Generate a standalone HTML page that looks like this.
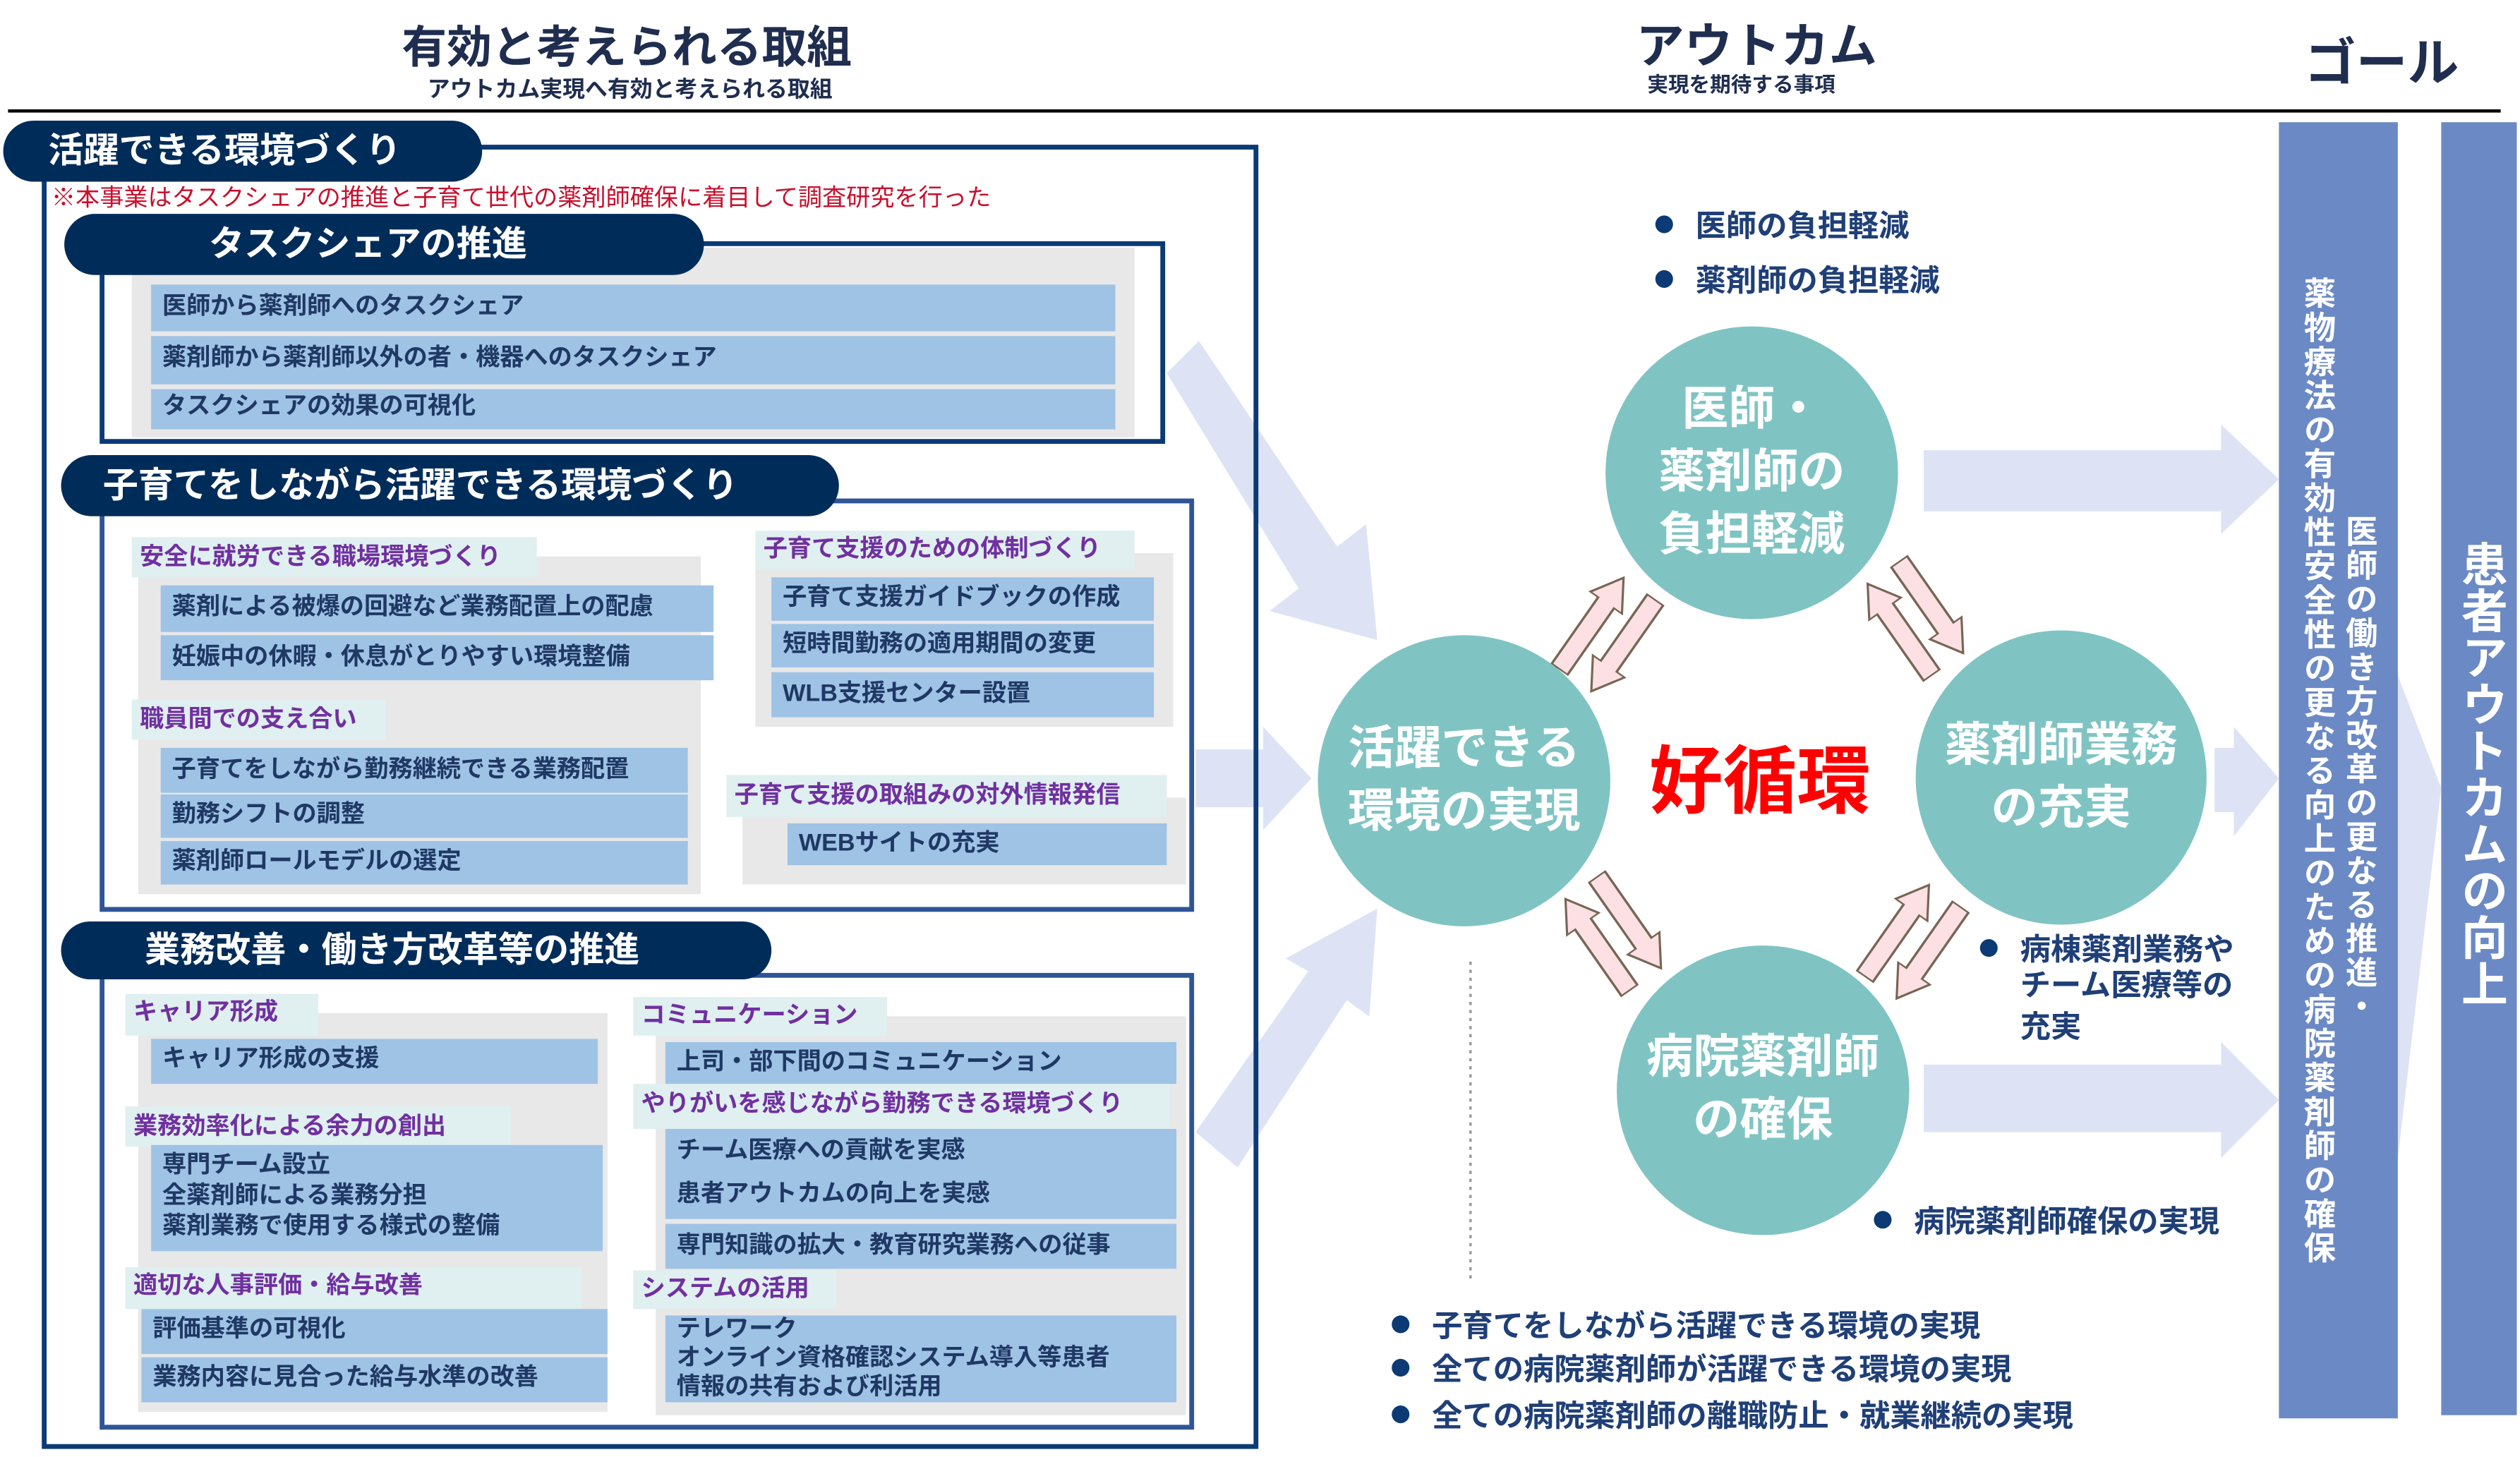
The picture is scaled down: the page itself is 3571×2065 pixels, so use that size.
<!DOCTYPE html>
<html><head><meta charset="utf-8"><style>
*{margin:0;padding:0;box-sizing:border-box}
body{width:3571px;height:2065px;overflow:hidden;background:#fff}
#s{position:absolute;left:0;top:0;width:1568px;height:906px;transform:scale(2.2774,2.2792);transform-origin:0 0;font-family:"Liberation Sans","Noto Sans CJK JP",sans-serif;font-weight:bold}
#s div{position:absolute;white-space:nowrap}
.pill{background:#002c5a;color:#fff;border-radius:20px;font-size:22px;line-height:38px}
.box{border:3px solid #0b3a75}
.box2{border:3px solid #2f5597}
.g{background:#e8e8e8}
.r{background:#9fc3e5;color:#1f3864;font-size:15px;padding-left:7px}
.l{background:#e0eff0;color:#7030a0;font-size:15px;padding-left:5px}
.c{background:#7fc4c3;border-radius:50%;color:#fff;font-size:29px;text-align:center;display:flex;align-items:center;justify-content:center;line-height:39px;white-space:normal!important}
.b{color:#1f3f77;font-size:19px}
.b:before{content:"";display:inline-block;width:11px;height:11px;border-radius:50%;background:#0b3a75;margin-right:14px;vertical-align:2px}
</style></head><body><div id="s">
<div style="left:250px;top:8px;font-size:28px;color:#1f2d4f">有効と考えられる取組</div>
<div style="left:266px;top:45px;font-size:14px;color:#1f2d4f">アウトカム実現へ有効と考えられる取組</div>
<div style="left:1018px;top:4px;font-size:30px;color:#1f2d4f">アウトカム</div>
<div style="left:1025px;top:42px;font-size:13px;color:#1f2d4f">実現を期待する事項</div>
<div style="left:1434px;top:14px;font-size:32px;color:#1f2d4f">ゴール</div>
<div style="left:5px;top:68px;width:1551px;height:2px;background:#000"></div>

<svg style="position:absolute;left:0;top:0" width="1568" height="906">
<polygon points="726,232 746,212 832,340 850,326 857,398 790,380 808,366" fill="#dde3f5"/>
<polygon points="744,466 786,466 786,452 816,484 786,516 786,502 744,502" fill="#dde3f5"/>
<polygon points="744,704 814,604 800,596 857,565 852,632 838,622 770,726" fill="#dde3f5"/>
<polygon points="1197,280 1382,280 1382,264 1418,298 1382,332 1382,318 1197,318" fill="#dde3f5"/>
<polygon points="1378,465 1390,465 1390,452 1418,484 1390,520 1390,505 1378,505" fill="#dde3f5"/>
<polygon points="1197,662 1382,662 1382,648 1418,684 1382,720 1382,704 1197,704" fill="#dde3f5"/>
<polygon points="1492,420 1519,490 1492,720" fill="#dde3f5"/>
<line x1="915" y1="598" x2="915" y2="795" stroke="#999" stroke-width="1.5" stroke-dasharray="2,3"/>
<g fill="#fde0e4" stroke="#765" stroke-width="1">
<g transform="translate(1002,392) rotate(35) scale(1.5,1.05)"><polygon points="-12,-30 -4,-30 -4,18 0,18 -8,36 -16,18 -12,18" transform="rotate(180,-8,3)"/><polygon points="4,-30 12,-30 12,18 16,18 8,36 0,18 4,18"/></g>
<g transform="translate(1190,382) rotate(-35) scale(1.5,1.05)"><polygon points="-12,-30 -4,-30 -4,18 0,18 -8,36 -16,18 -12,18" transform="rotate(180,-8,3)"/><polygon points="4,-30 12,-30 12,18 16,18 8,36 0,18 4,18"/></g>
<g transform="translate(1002,578) rotate(-35) scale(1.5,1.05)"><polygon points="-12,-30 -4,-30 -4,18 0,18 -8,36 -16,18 -12,18" transform="rotate(180,-8,3)"/><polygon points="4,-30 12,-30 12,18 16,18 8,36 0,18 4,18"/></g>
<g transform="translate(1192,583) rotate(35) scale(1.5,1.05)"><polygon points="-12,-30 -4,-30 -4,18 0,18 -8,36 -16,18 -12,18" transform="rotate(180,-8,3)"/><polygon points="4,-30 12,-30 12,18 16,18 8,36 0,18 4,18"/></g>
</g>
</svg>

<div class="box" style="left:26px;top:90px;width:757px;height:811px"></div>
<div class="pill" style="left:2px;top:75px;width:298px;padding-left:28px">活躍できる環境づくり</div>
<div style="left:32px;top:112px;font-size:15px;color:#c8102e;font-weight:normal">※本事業はタスクシェアの推進と子育て世代の薬剤師確保に着目して調査研究を行った</div>

<div class="box" style="left:62px;top:150px;width:663px;height:126px"></div>
<div class="g" style="left:82px;top:154px;width:624px;height:118px"></div>
<div class="pill" style="left:40px;top:133px;width:398px;padding-left:90px">タスクシェアの推進</div>
<div class="r" style="left:94px;top:177px;width:600px;height:29px;line-height:27px">医師から薬剤師へのタスクシェア</div>
<div class="r" style="left:94px;top:209px;width:600px;height:30px;line-height:28px">薬剤師から薬剤師以外の者・機器へのタスクシェア</div>
<div class="r" style="left:94px;top:242px;width:600px;height:25px;line-height:22px">タスクシェアの効果の可視化</div>

<div class="box2" style="left:62px;top:310px;width:681px;height:257px"></div>
<div class="pill" style="left:38px;top:283px;width:484px;padding-left:26px">子育てをしながら活躍できる環境づくり</div>
<div class="g" style="left:86px;top:346px;width:350px;height:210px"></div>
<div class="l" style="left:82px;top:334px;width:252px;height:25px;line-height:25px">安全に就労できる職場環境づくり</div>
<div class="r" style="left:100px;top:364px;width:344px;height:29px;line-height:28px">薬剤による被爆の回避など業務配置上の配慮</div>
<div class="r" style="left:100px;top:395px;width:344px;height:28px;line-height:27px">妊娠中の休暇・休息がとりやすい環境整備</div>
<div class="l" style="left:82px;top:435px;width:158px;height:25px;line-height:25px">職員間での支え合い</div>
<div class="r" style="left:100px;top:465px;width:328px;height:28px;line-height:27px">子育てをしながら勤務継続できる業務配置</div>
<div class="r" style="left:100px;top:494px;width:328px;height:27px;line-height:26px">勤務シフトの調整</div>
<div class="r" style="left:100px;top:523px;width:328px;height:27px;line-height:26px">薬剤師ロールモデルの選定</div>
<div class="g" style="left:470px;top:344px;width:260px;height:108px"></div>
<div class="l" style="left:470px;top:330px;width:236px;height:24px;line-height:24px">子育て支援のための体制づくり</div>
<div class="r" style="left:480px;top:359px;width:238px;height:27px;line-height:26px">子育て支援ガイドブックの作成</div>
<div class="r" style="left:480px;top:388px;width:238px;height:27px;line-height:26px">短時間勤務の適用期間の変更</div>
<div class="r" style="left:480px;top:418px;width:238px;height:28px;line-height:27px">WLB支援センター設置</div>
<div class="g" style="left:462px;top:496px;width:276px;height:54px"></div>
<div class="l" style="left:452px;top:482px;width:274px;height:26px;line-height:26px">子育て支援の取組みの対外情報発信</div>
<div class="r" style="left:490px;top:512px;width:236px;height:26px;line-height:25px">WEBサイトの充実</div>

<div class="box2" style="left:62px;top:605px;width:681px;height:284px"></div>
<div class="pill" style="left:38px;top:573px;width:442px;padding-left:52px;line-height:36px">業務改善・働き方改革等の推進</div>
<div class="g" style="left:86px;top:630px;width:292px;height:248px"></div>
<div class="g" style="left:408px;top:632px;width:330px;height:248px"></div>
<div class="l" style="left:78px;top:618px;width:120px;height:26px;line-height:24px">キャリア形成</div>
<div class="r" style="left:94px;top:646px;width:278px;height:28px;line-height:26px">キャリア形成の支援</div>
<div class="l" style="left:78px;top:688px;width:240px;height:25px;line-height:25px">業務効率化による余力の創出</div>
<div class="r" style="left:94px;top:712px;width:281px;height:66px;line-height:19px;padding-top:3px">専門チーム設立<br>全薬剤師による業務分担<br>薬剤業務で使用する様式の整備</div>
<div class="l" style="left:78px;top:788px;width:284px;height:26px;line-height:24px">適切な人事評価・給与改善</div>
<div class="r" style="left:88px;top:814px;width:290px;height:28px;line-height:25px">評価基準の可視化</div>
<div class="r" style="left:88px;top:844px;width:290px;height:28px;line-height:26px">業務内容に見合った給与水準の改善</div>
<div class="l" style="left:394px;top:620px;width:158px;height:24px;line-height:24px">コミュニケーション</div>
<div class="r" style="left:414px;top:648px;width:318px;height:26px;line-height:25px">上司・部下間のコミュニケーション</div>
<div class="l" style="left:394px;top:674px;width:334px;height:28px;line-height:26px">やりがいを感じながら勤務できる環境づくり</div>
<div class="r" style="left:414px;top:702px;width:318px;height:56px;line-height:27px">チーム医療への貢献を実感<br>患者アウトカムの向上を実感</div>
<div class="r" style="left:414px;top:761px;width:318px;height:28px;line-height:27px">専門知識の拡大・教育研究業務への従事</div>
<div class="l" style="left:394px;top:790px;width:126px;height:24px;line-height:24px">システムの活用</div>
<div class="r" style="left:414px;top:818px;width:318px;height:54px;line-height:18px">テレワーク<br>オンライン資格確認システム導入等患者<br>情報の共有および利活用</div>

<div class="c" style="left:999px;top:203px;width:182px;height:182px">医師・<br>薬剤師の<br>負担軽減</div>
<div class="c" style="left:820px;top:395px;width:182px;height:181px">活躍できる<br>環境の実現</div>
<div class="c" style="left:1192px;top:392px;width:181px;height:183px">薬剤師業務<br>の充実</div>
<div class="c" style="left:1006px;top:588px;width:182px;height:180px">病院薬剤師<br>の確保</div>
<div style="left:1026px;top:450px;font-size:46px;color:#ff0000">好循環</div>

<div class="b" style="left:1030px;top:126px">医師の負担軽減</div>
<div class="b" style="left:1030px;top:160px">薬剤師の負担軽減</div>
<div class="b" style="left:1232px;top:576px">病棟薬剤業務や</div>
<div style="left:1257px;top:601px;font-size:19px;color:#1f3f77;line-height:26px">チーム医療等の<br>充実</div>
<div class="b" style="left:1166px;top:745px">病院薬剤師確保の実現</div>
<div class="b" style="left:866px;top:810px">子育てをしながら活躍できる環境の実現</div>
<div class="b" style="left:866px;top:837px">全ての病院薬剤師が活躍できる環境の実現</div>
<div class="b" style="left:866px;top:866px">全ての病院薬剤師の離職防止・就業継続の実現</div>

<div style="left:1418px;top:76px;width:74px;height:806px;background:#6b89c4"></div>
<div style="left:1430px;top:172px;writing-mode:vertical-rl;font-size:20px;line-height:22px;letter-spacing:1.2px;color:#fff">薬物療法の有効性安全性の更なる向上のための病院薬剤師の確保</div>
<div style="left:1456px;top:320px;writing-mode:vertical-rl;font-size:20px;line-height:22px;letter-spacing:1.1px;color:#fff">医師の働き方改革の更なる推進・</div>
<div style="left:1519px;top:76px;width:47px;height:804px;background:#6b89c4"></div>
<div style="left:1527px;top:336px;writing-mode:vertical-rl;font-size:29px;line-height:32px;color:#fff">患者アウトカムの向上</div>
</div></body></html>
